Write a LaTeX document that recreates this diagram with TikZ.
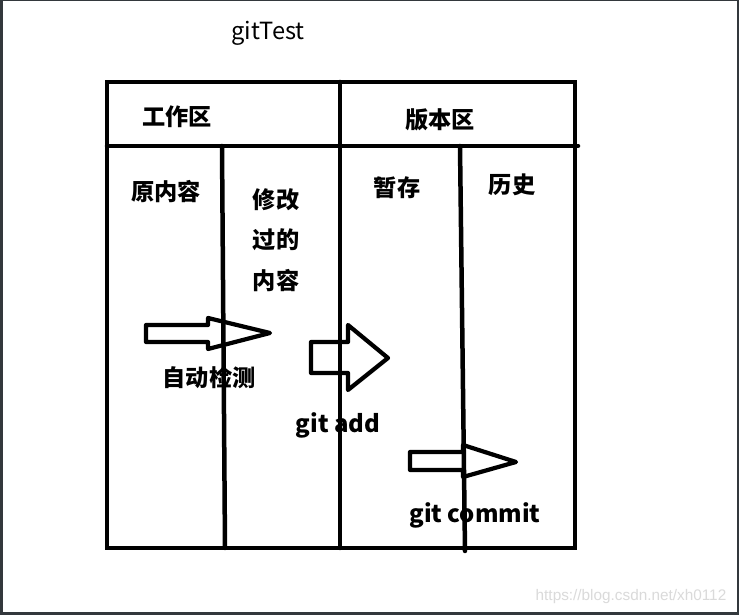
\documentclass[tikz,border=0pt]{standalone}
\usepackage{fontspec}
\newfontfamily\cjk{Noto Sans CJK SC}
\newfontfamily\wmfont{Liberation Sans}
\usetikzlibrary{positioning}
\definecolor{framegray}{HTML}{33383C}
\definecolor{markgray}{HTML}{DADADA}

\begin{document}
\begin{tikzpicture}[
    x=0.025cm, y=-0.025cm,
    pen/.style={line width=3.2pt, draw=black},
    divider/.style={pen, line cap=round},
    title/.style={font=\cjk\bfseries\fontsize{16.5}{29}\selectfont, inner sep=0pt, align=center},
    gitcmd/.style={font=\cjk\bfseries\fontsize{17}{20}\selectfont, inner sep=0pt},
    bigarrow/.style={pen, line width=3pt, line join=round}
]
    % window frame
    \fill[framegray] (0,0) rectangle (739,615);
    \fill[white] (3,1) rectangle (737,612);
    \useasboundingbox (0,0) rectangle (739,615);

    % texts
    \node[font=\cjk\fontsize{16.8}{18}\selectfont, inner sep=0pt] (name) at (268,33) {gitTest};
    \node[title] (work) at (177,117) {工作区};
    \node[title] (repo) at (440,120) {版本区};
    \node[title] (orig) at (166,192) {原内容};
    \node[title] (changed) at (276,240) {修改\\过的\\内容};
    \node[title] (stage) at (397,188) {暂存};
    \node[title] (hist) at (512,185) {历史};
    \node[title] (detect) at (209,378) {自动检测};
    \node[gitcmd] (add) at (338,425) {git add};
    \node[gitcmd] (commit) at (475,515) {git commit};
    \node[font=\wmfont\fontsize{10.9}{12}\selectfont, text=markgray, inner sep=0pt] (mark) at (631,597) {https://blog.csdn.net/xh0112};

    % block arrows
    \draw[bigarrow] (146,325) -- (208,325) -- (208,318) -- (270,333) -- (208,349) -- (208,342) -- (146,342) -- cycle;
    \draw[bigarrow] (311,342) -- (348,342) -- (348,325) -- (388,358) -- (348,390) -- (348,373) -- (311,373) -- cycle;
    \draw[bigarrow] (410,452) -- (463,452) -- (463,445) -- (516,462) -- (463,477) -- (463,470) -- (410,470) -- cycle;

    % boxes and dividers
    \draw[pen] (107,82) rectangle (575,548);
    \draw[divider] (107,146) -- (578,146);
    \draw[divider] (340,82) -- (340,548);
    \draw[divider] (222,146) -- (225,548);
    \draw[divider] (460,146) -- (465,551);
\end{tikzpicture}
\end{document}
